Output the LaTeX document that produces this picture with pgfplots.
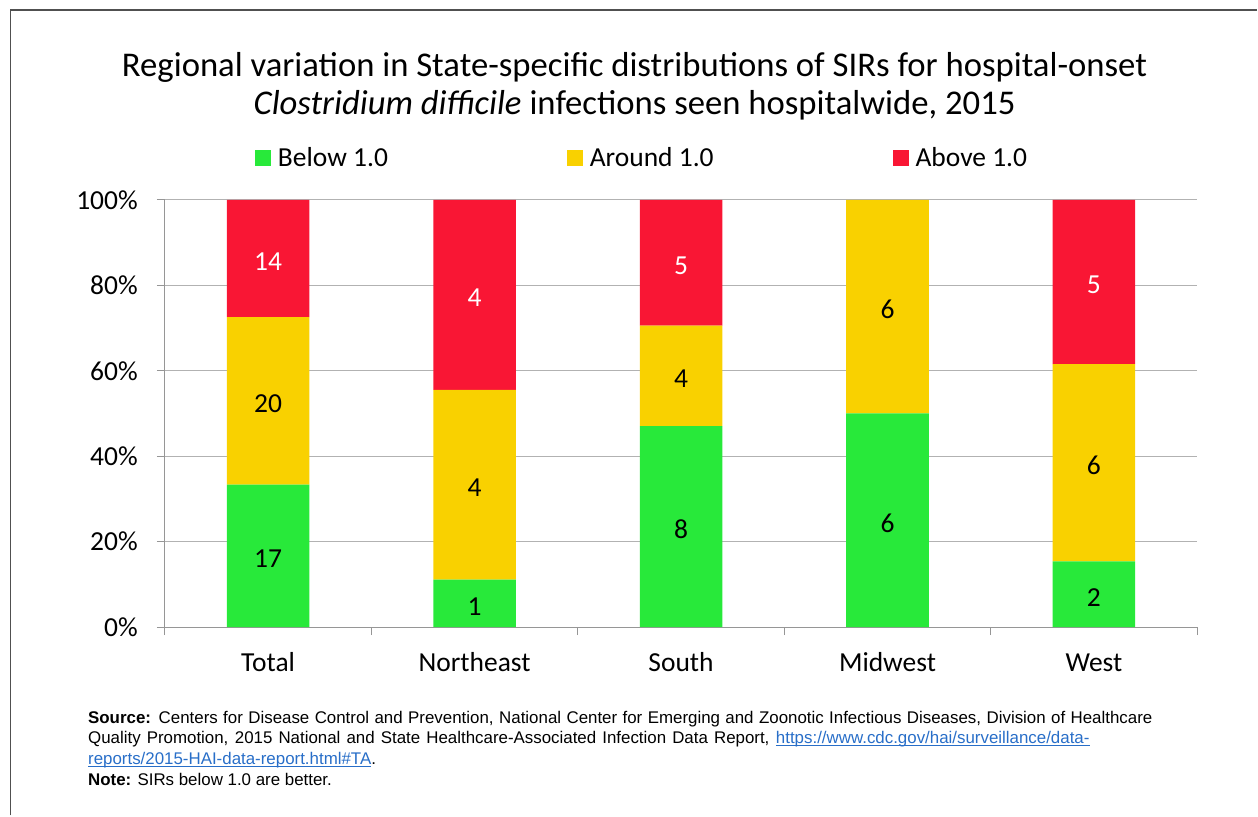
\documentclass[border=0pt]{standalone}
\usepackage{fontspec}
\setmainfont{Carlito}
\newfontfamily\arialfont{Liberation Sans}
\usepackage{pgfplots}
\usepackage{pgfplotstable}
\pgfplotsset{compat=1.18}
\definecolor{cgreen}{RGB}{40,233,58}
\definecolor{cyellow}{RGB}{249,209,0}
\definecolor{cred}{RGB}{249,22,52}
\definecolor{gridgray}{RGB}{178,178,178}
\definecolor{axisgray}{RGB}{150,150,150}
\definecolor{linkblue}{RGB}{40,110,200}
\definecolor{framegray}{RGB}{80,80,80}
\newlength{\ulw}
\newcommand{\ul}[1]{\settowidth{\ulw}{#1}\rlap{\rule[-2.6pt]{\ulw}{1pt}}#1}

% percent of States in each region, and number of States
\pgfplotstableread{
x pct n
0 33.33 17
1 11.11 1
2 47.06 8
3 50.00 6
4 15.38 2
}\below
\pgfplotstableread{
x pct n
0 39.22 20
1 44.44 4
2 23.53 4
3 50.00 6
4 46.15 6
}\around
\pgfplotstableread{
x pct n
0 27.45 14
1 44.45 4
2 29.41 5
3 0 {}
4 38.47 5
}\above

\begin{document}
\begin{tikzpicture}[x=1pt,y=1pt]
\path (0,0) rectangle (1258,816);
\draw[framegray, line width=1.6pt] (10.5,0) -- (10.5,806) -- (1258,806);
\node[anchor=base, inner sep=0, font=\fontsize{34.7}{40}\selectfont] at (635,739)
  {Regional variation in State-specific distributions of SIRs for hospital-onset};
\node[anchor=base, inner sep=0, font=\fontsize{34.7}{40}\selectfont] at (635,701)
  {\textit{Clostridium difficile} infections seen hospitalwide, 2015};
\begin{axis}[
  at={(165pt,188.5pt)}, anchor=south west, scale only axis,
  width=1033pt, height=427.5pt,
  ybar stacked, bar width=82.6pt,
  xmin=-0.5, xmax=4.5, ymin=0, ymax=100,
  axis x line=bottom, axis y line=left,
  axis line style={-, draw=axisgray, line width=1.2pt},
  xtick={-0.5,0.5,...,4.5}, xticklabels={},
  extra x ticks={0,1,2,3,4},
  extra x tick labels={Total,Northeast,South,Midwest,West},
  extra x tick style={major tick length=0pt, grid=none},
  ytick={0,20,...,100}, yticklabels={0\%,20\%,40\%,60\%,80\%,100\%},
  ymajorgrids, grid style={gridgray, line width=1.2pt},
  tick align=outside, major tick length=8pt,
  tick style={draw=axisgray, line width=1.2pt},
  tick label style={font=\fontsize{27.5}{32}\selectfont},
  yticklabel style={anchor=east, inner sep=0pt, xshift=-19pt},
  xticklabel style={anchor=base, inner sep=0pt, yshift=-44pt},
  nodes near coords, point meta=explicit symbolic,
  every node near coord/.append style={anchor=center, inner sep=0pt,
     yshift=-3pt, font=\fontsize{27.5}{32}\selectfont, text=black},
  legend image code/.code={\fill[#1] (0pt,-8pt) rectangle (16pt,8pt);},
  legend columns=3,
  legend style={at={(axis description cs:0.0871,1.098)}, anchor=west,
     draw=none, fill=none, inner sep=0pt,
     font=\fontsize{27.5}{32}\selectfont,
     nodes={inner sep=0pt},
     /tikz/every odd column/.append style={column sep=7pt},
     /tikz/every even column/.append style={column sep=179pt}},
]
\addplot[fill=cgreen, draw=none] table[x=x, y=pct, meta=n] {\below};
\addlegendentry{Below 1.0}
\addplot[fill=cyellow, draw=none] table[x=x, y=pct, meta=n] {\around};
\addlegendentry{Around 1.0}
\addplot[fill=cred, draw=none, every node near coord/.append style={text=white}] table[x=x, y=pct, meta=n] {\above};
\addlegendentry{Above 1.0}
\end{axis}
\node[anchor=base west, inner sep=0] at (88,92.5) {\parbox[t]{1065pt}{\arialfont\fontsize{16.9}{20.7}\selectfont
\makebox[1065pt][s]{\textbf{Source:} Centers for Disease Control and Prevention, National Center for Emerging and Zoonotic Infectious Diseases, Division of Healthcare}\\
\makebox[1002pt][s]{Quality Promotion, 2015 National and State Healthcare-Associated Infection Data Report, \textcolor{linkblue}{\ul{https://www.cdc.gov/hai/surveillance/data-}}}\\
\textcolor{linkblue}{\ul{reports/2015-HAI-data-report.html\#TA}}.\\
\textbf{Note:} SIRs below 1.0 are better.}};
\end{tikzpicture}
\end{document}
